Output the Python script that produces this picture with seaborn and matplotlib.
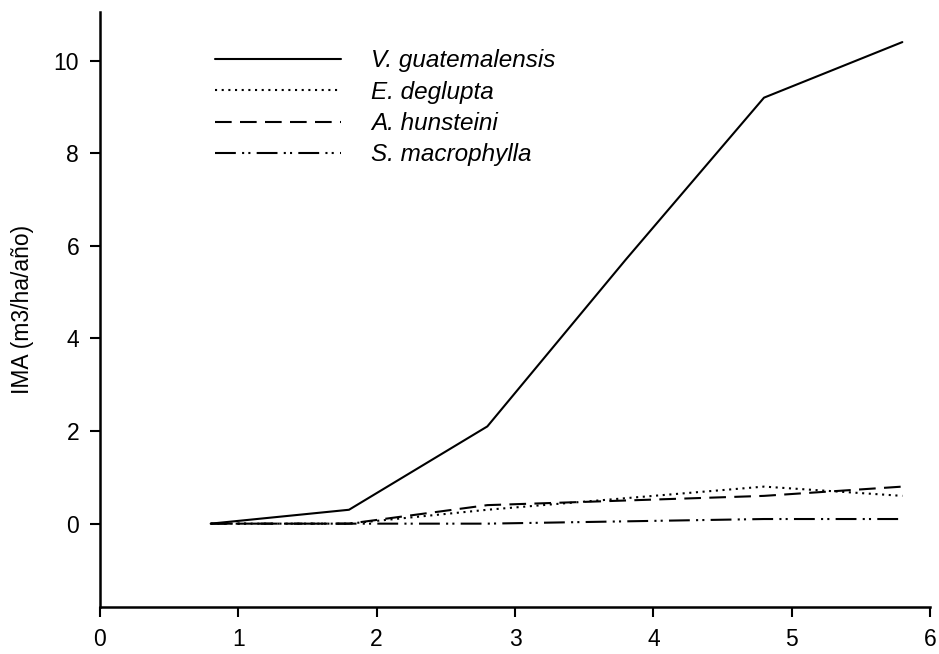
import matplotlib
matplotlib.use("Agg")
import matplotlib.pyplot as plt
import seaborn as sns
import pandas as pd

# Age (years) and mean annual increment per species
edad = [0.8, 1.8, 2.8, 3.8, 4.8, 5.8]
v_guatemalensis = [0.0, 0.3, 2.1, 5.7, 9.2, 10.4]
e_deglupta = [0.0, 0.0, 0.3, 0.55, 0.8, 0.6]
a_hunsteini = [0.0, 0.0, 0.4, 0.5, 0.6, 0.8]
s_macrophylla = [0.0, 0.0, 0.0, 0.05, 0.1, 0.1]

especies = ["V. guatemalensis", "E. deglupta", "A. hunsteini", "S. macrophylla"]
series = [v_guatemalensis, e_deglupta, a_hunsteini, s_macrophylla]

df = pd.DataFrame(
    [(x, y, sp) for sp, vals in zip(especies, series) for x, y in zip(edad, vals)],
    columns=["edad", "ima", "especie"],
)

sns.set_theme(style="ticks")
plt.rcParams["font.family"] = ["Liberation Sans", "DejaVu Sans"]
plt.rcParams.update({"text.color": "black", "axes.labelcolor": "black",
                     "xtick.color": "black", "ytick.color": "black"})

estilos = {
    "V. guatemalensis": "-",
    "E. deglupta": (0, (1, 2.2)),
    "A. hunsteini": (0, (8, 4)),
    "S. macrophylla": (0, (10, 3, 1, 2, 1, 3)),
}

fig = plt.figure(figsize=(9.39, 6.54), dpi=100)
ax = fig.add_axes([100 / 939, 1 - 607 / 654, 830 / 939, 595 / 654])

for sp in especies:
    sub = df[df["especie"] == sp]
    sns.lineplot(data=sub, x="edad", y="ima", ax=ax, color="black",
                 linewidth=1.5, linestyle=estilos[sp], label=sp)

ax.set_xlim(0, 6)
ax.set_ylim(-1.8, 11.05)
ax.set_xticks(range(0, 7))
ax.set_yticks(range(0, 11, 2))
ax.set_xlabel("")
ax.set_ylabel("IMA (m3/ha/año)", fontsize=16.5, labelpad=14)
ax.tick_params(axis="both", labelsize=16.5, direction="out", length=7,
               width=1.5, color="black", labelcolor="black", pad=8)
for s in ("top", "right"):
    ax.spines[s].set_visible(False)
for s in ("left", "bottom"):
    ax.spines[s].set_linewidth(1.8)
    ax.spines[s].set_color("black")

leg = ax.legend(loc="upper left", bbox_to_anchor=(0.138, 0.937), frameon=False,
                handlelength=5.2, handletextpad=1.25, labelspacing=0.34,
                borderaxespad=0, borderpad=0,
                prop={"style": "italic", "size": 17.5})
for line in leg.get_lines():
    line.set_linewidth(1.5)
for t in leg.get_texts():
    t.set_color("black")

fig.savefig("out.png", dpi=100)
